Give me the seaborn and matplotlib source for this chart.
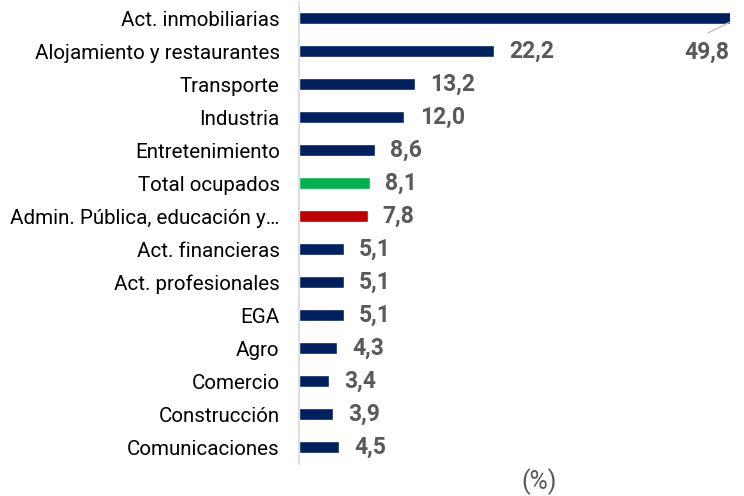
import matplotlib
matplotlib.use("Agg")
import matplotlib.pyplot as plt
import seaborn as sns

# Data
categories = ["Act. inmobiliarias", "Alojamiento y restaurantes", "Transporte", "Industria",
              "Entretenimiento", "Total ocupados", "Admin. Pública, educación y…",
              "Act. financieras", "Act. profesionales", "EGA", "Agro", "Comercio",
              "Construcción", "Comunicaciones"]
values = [49.8, 22.2, 13.2, 12.0, 8.6, 8.1, 7.8, 5.1, 5.1, 5.1, 4.3, 3.4, 3.9, 4.5]
labels = ["49,8", "22,2", "13,2", "12,0", "8,6", "8,1", "7,8", "5,1", "5,1", "5,1", "4,3", "3,4", "3,9", "4,5"]

NAVY, GREEN, RED = "#002060", "#00B050", "#C00000"
palette = {c: NAVY for c in categories}
palette["Total ocupados"] = GREEN
palette["Admin. Pública, educación y…"] = RED

sns.set_style("white")
plt.rcParams["font.family"] = ["Roboto", "DejaVu Sans"]

fig = plt.figure(figsize=(7.44, 4.96), dpi=100)
ax = fig.add_axes([0.402, 0.0655, 0.579, 0.931])
sns.barplot(x=values, y=categories, hue=categories, palette=palette, legend=False,
            width=0.37, orient="h", ax=ax, saturation=1)
ax.set_xlim(0, 49.1)
ax.set_ylim(len(categories) - 0.5, -0.5)

for i, (v, lab) in enumerate(zip(values, labels)):
    if i == 0:
        continue
    ax.annotate(lab, (v, i), xytext=(11, 0), textcoords="offset points",
                ha="left", va="center", fontsize=16.5, fontweight="bold", color="#595959")

# first bar runs off the chart: label placed below with leader line
ax.text(49.0, 1.03, labels[0], ha="right", va="center", fontsize=16.5,
        fontweight="bold", color="#595959")
ax.plot([46.6, 49.1], [0.45, 0.12], color="#BFBFBF", lw=1, clip_on=False)

ax.set_xticks([])
ax.set_xlabel("")
ax.set_ylabel("")
ax.tick_params(axis="y", length=0, labelsize=14.8, labelcolor="#000000", pad=14)
for s in ["top", "right", "bottom"]:
    ax.spines[s].set_visible(False)
ax.spines["left"].set_color("#D9D9D9")
ax.spines["left"].set_linewidth(1.2)

fig.text(539 / 744, 1 - 482 / 496, "(%)", ha="center", va="center", fontsize=18, color="#595959")

fig.savefig("out.png", dpi=100)
